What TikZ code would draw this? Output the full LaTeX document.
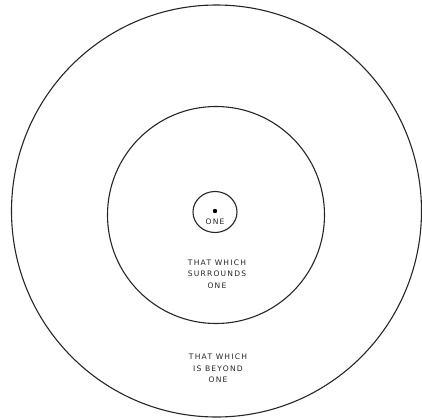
\documentclass[tikz,border=0pt]{standalone}
\usepackage{fontspec}
\setmainfont{Liberation Sans}
\newfontfamily\handfont[LetterSpace=16]{DejaVu Sans}
\usetikzlibrary{shapes.geometric}
\begin{document}
\begin{tikzpicture}[x=1bp,y=-1bp,
  ring/.style={draw=black!85, line width=1.1bp},
  lbl/.style={font=\handfont\fontsize{7.6}{11.5}\selectfont, align=center, inner sep=0pt, text=black!85}]
\useasboundingbox (0,0) rectangle (422,420);
\node[ring, ellipse, minimum width=410bp, minimum height=412bp, inner sep=0pt] (outer) at (216.5,211) {};
\node[ring, circle, minimum size=217bp, inner sep=0pt] (inner) at (216,215) {};
\node[ring, ellipse, minimum width=44bp, minimum height=41bp, inner sep=0pt] (small) at (215,212) {};
\fill[black] (215,211) circle (2.2bp) coordinate (dot);
\node[lbl] (one) at (215,222) {ONE};
\node[lbl] (surr) at (217,274) {THAT WHICH\\SURROUNDS\\ONE};
\node[lbl] (beyond) at (218,368.5) {THAT WHICH\\IS BEYOND\\ONE};
\end{tikzpicture}
\end{document}
